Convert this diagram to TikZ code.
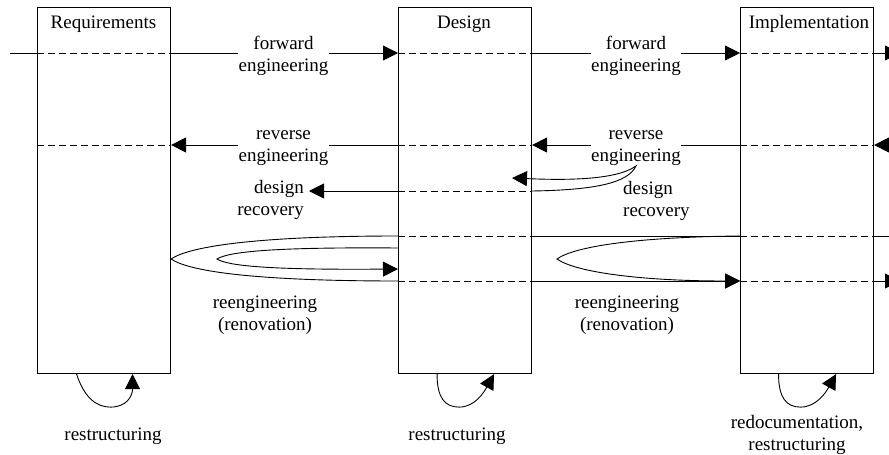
\documentclass[tikz,border=0pt]{standalone}
\usepackage{fontspec}
\setmainfont{Liberation Serif}
\usetikzlibrary{arrows.meta,calc}
\begin{document}
\begin{tikzpicture}[x=1pt,y=-1pt,
  font=\fontsize{19}{22.5}\selectfont,
  box/.style={draw, line width=1.1pt, minimum width=133pt, minimum height=366pt, inner sep=0pt, anchor=north west},
  ttl/.style={anchor=base, inner sep=0pt},
  lbl/.style={align=center, inner sep=0pt},
  ln/.style={line width=0.9pt},
  dsh/.style={ln, dash pattern=on 7pt off 4pt},
  arr/.style={ln, -{Triangle[length=15pt,width=15pt]}},
]
\useasboundingbox (0,0) rectangle (889,455);
% boxes
\node[box] (req) at (37,7) {};
\node[box] (des) at (398,7) {};
\node[box] (imp) at (740,7) {};
\node[ttl] (treq) at (103.5,28) {Requirements};
\node[ttl] (tdes) at (464,28) {Design};
\node[ttl] (timp) at (809,28) {Implementation};
% levels and free ends
\coordinate (yF) at (0,53);
\coordinate (yR) at (0,145);
\coordinate (yD) at (0,191);
\coordinate (yT) at (0,236);
\coordinate (yTi) at (0,248);
\coordinate (yM) at (0,259);
\coordinate (yBi) at (0,269);
\coordinate (yB) at (0,281);
\coordinate (fin) at (10,53);
\coordinate (fout) at (900,53);
\coordinate (rin) at (903,145);
\coordinate (tout) at (900,236);
\coordinate (bout) at (900,281);
\coordinate (drtip) at (512,178);
\coordinate (lt) at (217,259);
\coordinate (rt) at (557,259);
% labels
\node[lbl] (fe1) at (283.5,56) {forward\\engineering};
\node[lbl] (fe2) at (636,56) {forward\\engineering};
\node[lbl] (re1) at (283.5,148) {reverse\\engineering};
\node[lbl] (re2) at (636,148) {reverse\\engineering};
\node[lbl, align=right, anchor=east] (dr1) at (304,200) {design\\recovery};
\node[lbl, align=left, anchor=west] (dr2) at (623,201) {design\\recovery};
\node[lbl] (rg1) at (265,315) {reengineering\\(renovation)};
\node[lbl] (rg2) at (627,315) {reengineering\\(renovation)};
\node[lbl] (rs1) at (113,436) {restructuring};
\node[lbl] (rs2) at (457,436) {restructuring};
\node[lbl] (rs3) at (797,435) {redocumentation,\\restructuring};
% forward engineering
\draw[ln] (fin) -- (req.west |- yF);
\draw[dsh] (req.west |- yF) -- (req.east |- yF);
\draw[ln] (req.east |- yF) -- (fe1.west |- yF);
\draw[arr] (fe1.east |- yF) -- (des.west |- yF);
\draw[dsh] (des.west |- yF) -- (des.east |- yF);
\draw[ln] (des.east |- yF) -- (fe2.west |- yF);
\draw[arr] (fe2.east |- yF) -- (imp.west |- yF);
\draw[dsh] (imp.west |- yF) -- (imp.east |- yF);
\draw[arr] (imp.east |- yF) -- (fout);
% reverse engineering
\draw[arr] (rin) -- (imp.east |- yR);
\draw[dsh] (imp.west |- yR) -- (imp.east |- yR);
\draw[ln] (imp.west |- yR) -- (re2.east |- yR);
\draw[arr] (re2.west |- yR) -- (des.east |- yR);
\draw[dsh] (des.west |- yR) -- (des.east |- yR);
\draw[ln] (des.west |- yR) -- (re1.east |- yR);
\draw[arr] (re1.west |- yR) -- (req.east |- yR);
\draw[dsh] (req.west |- yR) -- (req.east |- yR);
% design recovery
\draw[arr] (des.west |- yD) -- ($(dr1.east |- yD)+(5,0)$);
\draw[dsh] (des.west |- yD) -- (des.east |- yD);
\draw[arr] (des.east |- yD) .. controls (595,190) and (628,183) .. (re2.south)
  .. controls (615,181) and (560,180) .. (drtip);
% reengineering
\draw[ln] (des.west |- yT) .. controls (260,236) and (190,246) .. (req.east |- yM)
  .. controls (190,272) and (260,281) .. (des.west |- yB);
\draw[arr] (des.west |- yTi) .. controls (270,247) and (228,252) .. (lt)
  .. controls (228,266) and (270,270) .. (des.west |- yBi);
\draw[arr] (imp.west |- yT) .. controls (640,237) and (575,246) .. (rt)
  .. controls (575,272) and (640,281) .. (imp.west |- yB);
\draw[dsh] (des.west |- yT) -- (des.east |- yT);
\draw[dsh] (des.west |- yB) -- (des.east |- yB);
\draw[ln] (des.east |- yT) -- (imp.west |- yT);
\draw[arr] (des.east |- yB) -- (imp.west |- yB);
\draw[dsh] (imp.west |- yT) -- (imp.east |- yT);
\draw[dsh] (imp.west |- yB) -- (imp.east |- yB);
\draw[ln] (imp.east |- yT) -- (tout);
\draw[arr] (imp.east |- yB) -- (bout);
% restructuring loops
\draw[arr] ($(req.south)+(-27.5,0)$) .. controls +(8,24) and +(-14,0) .. ($(req.south)+(6.5,33)$)
  .. controls +(16,0) and +(0,22) .. ($(req.south)+(28.5,0)$);
\draw[arr] ($(des.south)+(-28,0)$) .. controls +(0,24) and +(-14,0) .. ($(des.south)+(-6,33)$)
  .. controls +(16,0) and +(-10,18) .. ($(des.south)+(29,0)$);
\draw[arr] ($(imp.south)+(-28.5,0)$) .. controls +(0,24) and +(-14,0) .. ($(imp.south)+(-6.5,33)$)
  .. controls +(16,0) and +(-10,18) .. ($(imp.south)+(29,0)$);
\end{tikzpicture}
\end{document}
